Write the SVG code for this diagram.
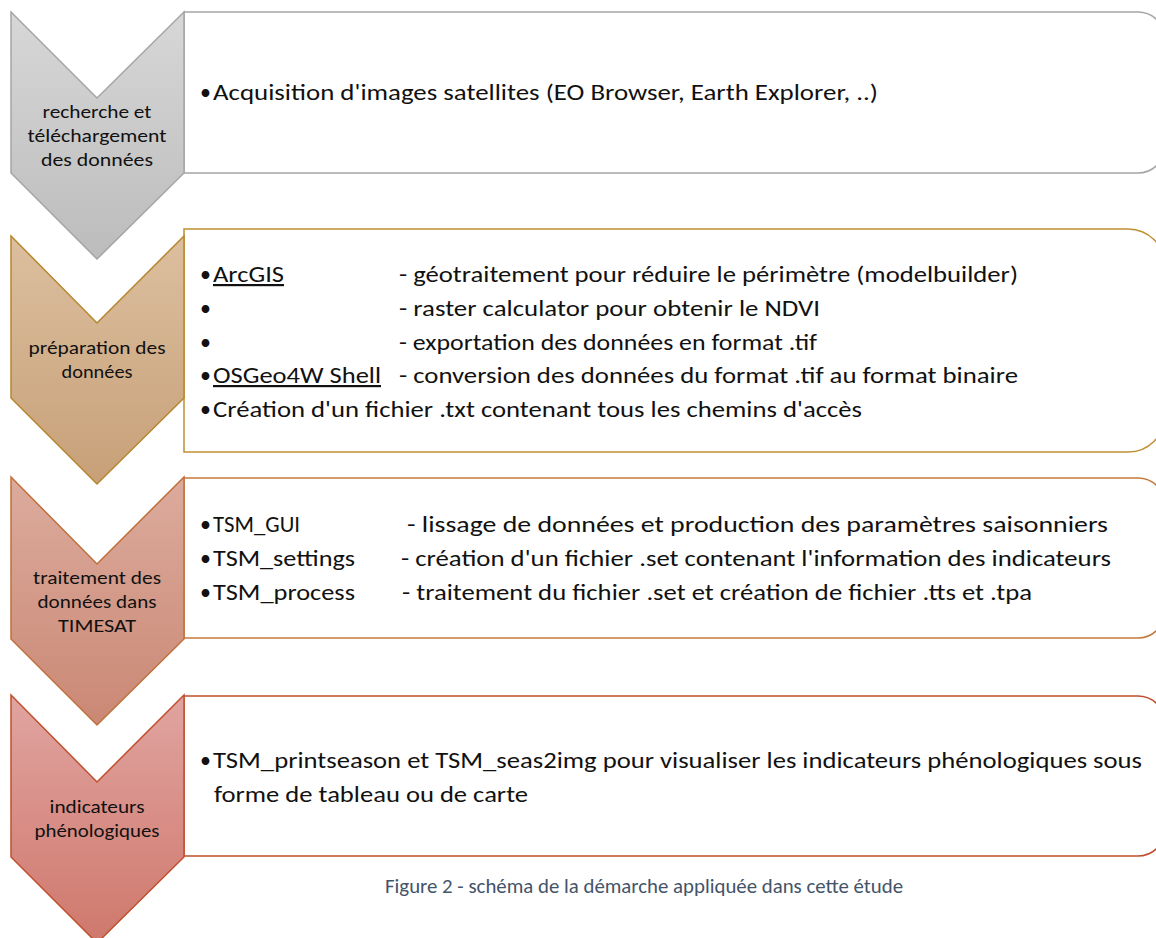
<svg xmlns="http://www.w3.org/2000/svg" width="1156" height="938" viewBox="0 0 1156 938">
<defs>
<linearGradient id="g1" x1="0" y1="0" x2="0" y2="1"><stop offset="0" stop-color="#d7d7d7"/><stop offset="1" stop-color="#bcbcbc"/></linearGradient>
<linearGradient id="g2" x1="0" y1="0" x2="0" y2="1"><stop offset="0" stop-color="#dcbf9f"/><stop offset="1" stop-color="#c7a078"/></linearGradient>
<linearGradient id="g3" x1="0" y1="0" x2="0" y2="1"><stop offset="0" stop-color="#dcab9d"/><stop offset="1" stop-color="#ca8874"/></linearGradient>
<linearGradient id="g4" x1="0" y1="0" x2="0" y2="1"><stop offset="0" stop-color="#e1a4a1"/><stop offset="1" stop-color="#cf786c"/></linearGradient>
<style>
.box{fill:#ffffff;stroke-width:1.5}
.chev{stroke-width:1.5}
.lbl{font-family:Carlito,Lato,"Open Sans",sans-serif;font-size:19px;fill:#111111;text-anchor:middle}
.t{font-family:Carlito,Lato,"Open Sans",sans-serif;font-size:22px;fill:#111111}
.u{text-decoration:underline}
.cap{font-family:Carlito,Lato,"Open Sans",sans-serif;font-size:20.5px;fill:#44546a;text-anchor:middle}
</style>
</defs>

<g id="step1">
<path class="box" stroke="#a5a5a5" d="M184,12 H1138 A27,27 0 0 1 1165,39 V146 A27,27 0 0 1 1138,173 H184 Z"/>
<polygon class="chev" fill="url(#g1)" stroke="#a5a5a5" points="11,12 97,98 184,12 184,173 97,259 11,173"/>
<text class="lbl" x="97" y="118" textLength="109" lengthAdjust="spacingAndGlyphs">recherche et</text>
<text class="lbl" x="97" y="142" textLength="139" lengthAdjust="spacingAndGlyphs">téléchargement</text>
<text class="lbl" x="97" y="166" textLength="112" lengthAdjust="spacingAndGlyphs">des données</text>
<text class="t" x="200" y="100">•</text>
<text class="t" x="213" y="100" textLength="665" lengthAdjust="spacingAndGlyphs">Acquisition d'images satellites (EO Browser, Earth Explorer, ..)</text>
</g>

<g id="step2">
<path class="box" stroke="#bf9033" d="M184,229 H1128 A37,37 0 0 1 1165,266 V415 A37,37 0 0 1 1128,452 H184 Z"/>
<polygon class="chev" fill="url(#g2)" stroke="#b8862e" points="11,236 97,323 184,236 184,398 97,484 11,398"/>
<text class="lbl" x="97" y="354" textLength="137" lengthAdjust="spacingAndGlyphs">préparation des</text>
<text class="lbl" x="97" y="378" textLength="71" lengthAdjust="spacingAndGlyphs">données</text>
<text class="t" x="200" y="282">•</text>
<text class="t u" x="213" y="282" textLength="71" lengthAdjust="spacingAndGlyphs">ArcGIS</text>
<text class="t" x="399" y="282" textLength="619" lengthAdjust="spacingAndGlyphs">- géotraitement pour réduire le périmètre (modelbuilder)</text>
<text class="t" x="200" y="316">•</text>
<text class="t" x="399" y="316" textLength="421" lengthAdjust="spacingAndGlyphs">- raster calculator pour obtenir le NDVI</text>
<text class="t" x="200" y="350">•</text>
<text class="t" x="399" y="350" textLength="418" lengthAdjust="spacingAndGlyphs">- exportation des données en format .tif</text>
<text class="t" x="200" y="383">•</text>
<text class="t u" x="213" y="383" textLength="168" lengthAdjust="spacingAndGlyphs">OSGeo4W Shell</text>
<text class="t" x="399" y="383" textLength="619" lengthAdjust="spacingAndGlyphs">- conversion des données du format .tif au format binaire</text>
<text class="t" x="200" y="417">•</text>
<text class="t" x="213" y="417" textLength="649" lengthAdjust="spacingAndGlyphs">Création d'un fichier .txt contenant tous les chemins d'accès</text>
</g>

<g id="step3">
<path class="box" stroke="#c47a3e" d="M184,478 H1138 A27,27 0 0 1 1165,505 V611 A27,27 0 0 1 1138,638 H184 Z"/>
<polygon class="chev" fill="url(#g3)" stroke="#c0703a" points="11,477 97,564 184,477 184,639 97,725 11,639"/>
<text class="lbl" x="97" y="584" textLength="128" lengthAdjust="spacingAndGlyphs">traitement des</text>
<text class="lbl" x="97" y="608" textLength="119" lengthAdjust="spacingAndGlyphs">données dans</text>
<text class="lbl" x="97" y="632" textLength="78" lengthAdjust="spacingAndGlyphs">TIMESAT</text>
<text class="t" x="200" y="532">•</text>
<text class="t" x="213" y="532" textLength="87" lengthAdjust="spacingAndGlyphs">TSM_GUI</text>
<text class="t" x="407" y="532" textLength="701" lengthAdjust="spacingAndGlyphs">- lissage de données et production des paramètres saisonniers</text>
<text class="t" x="200" y="566">•</text>
<text class="t" x="213" y="566" textLength="142" lengthAdjust="spacingAndGlyphs">TSM_settings</text>
<text class="t" x="401" y="566" textLength="710" lengthAdjust="spacingAndGlyphs">- création d'un fichier .set contenant l'information des indicateurs</text>
<text class="t" x="200" y="600">•</text>
<text class="t" x="213" y="600" textLength="142" lengthAdjust="spacingAndGlyphs">TSM_process</text>
<text class="t" x="402" y="600" textLength="630" lengthAdjust="spacingAndGlyphs">- traitement du fichier .set et création de fichier .tts et .tpa</text>
</g>

<g id="step4">
<path class="box" stroke="#c0502d" d="M184,696 H1138 A27,27 0 0 1 1165,723 V829 A27,27 0 0 1 1138,856 H184 Z"/>
<polygon class="chev" fill="url(#g4)" stroke="#c0502d" points="11,695 97,782 184,695 184,857 97,943 11,857"/>
<text class="lbl" x="97" y="813" textLength="95" lengthAdjust="spacingAndGlyphs">indicateurs</text>
<text class="lbl" x="97" y="837" textLength="125" lengthAdjust="spacingAndGlyphs">phénologiques</text>
<text class="t" x="200" y="768">•</text>
<text class="t" x="213" y="768" textLength="929" lengthAdjust="spacingAndGlyphs">TSM_printseason et TSM_seas2img pour visualiser les indicateurs phénologiques sous</text>
<text class="t" x="214" y="802" textLength="314" lengthAdjust="spacingAndGlyphs">forme de tableau ou de carte</text>
</g>

<g id="connectors"></g>

<text class="cap" x="644" y="893" textLength="518" lengthAdjust="spacingAndGlyphs">Figure 2 - schéma de la démarche appliquée dans cette étude</text>
</svg>
